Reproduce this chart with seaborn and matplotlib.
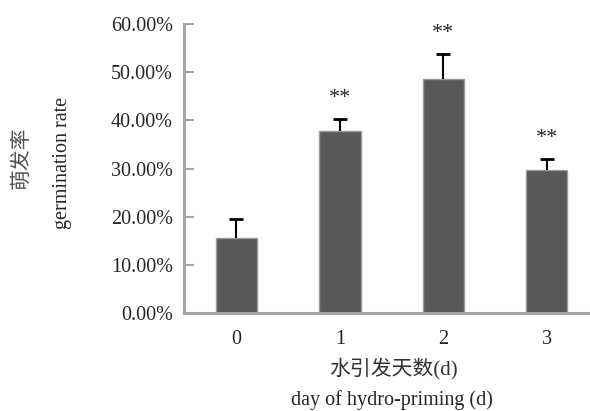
import seaborn as sns
import matplotlib.pyplot as plt
import pandas as pd

days = ["0", "1", "2", "3"]
rate = [15.6, 37.8, 48.5, 29.7]      # germination rate (%)
err = [4.0, 2.4, 5.2, 2.3]           # upper error
marks = ["", "**", "**", "**"]
yticks = [0, 10, 20, 30, 40, 50, 60]

sns.set_style("white")
plt.rcParams['font.family'] = ['Liberation Serif', 'Noto Sans CJK SC']

df = pd.DataFrame({"day": days, "rate": rate})

fig = plt.figure(figsize=(5.9, 4.11), dpi=100)
ax = fig.add_axes([0.312, 0.2384, 0.688, 0.7032])

sns.barplot(data=df, x="day", y="rate", color="#585858", width=0.4,
            edgecolor="#9a9a9a", linewidth=1.0, saturation=1, ax=ax)

xs = range(len(days))
eb = ax.errorbar(xs, rate, yerr=[[0] * len(err), err], fmt="none",
                 ecolor="black", elinewidth=1.5, capsize=4.7, capthick=2)
# only the upper cap is shown
eb[1][0].set_visible(False)

for x, r, e, m in zip(xs, rate, err, marks):
    if m:
        ax.text(x, r + e + 4.3, m, ha="center", va="center", fontsize=16)

ax.set_ylim(0, 60)
ax.set_xlim(-0.507, 3.42)
ax.set_yticks(yticks)
ax.set_yticklabels([f"{t:.2f}%" for t in yticks], fontsize=14.5)
ax.tick_params(axis="x", labelsize=14.5, length=0, pad=12)
ax.tick_params(axis="y", direction="in", length=7, width=1.5,
               color="#a6a6a6", pad=8, left=True)
ax.set_xlabel("")
ax.set_ylabel("")

for s in ["top", "right"]:
    ax.spines[s].set_visible(False)
for s in ["left", "bottom"]:
    ax.spines[s].set_color("#a6a6a6")
    ax.spines[s].set_linewidth(2.2)

fig.text(22 / 590, 1 - 158 / 411, "萌发率", rotation=90, ha="center",
         va="center", fontsize=15, color="#555555")
fig.text(62 / 590, 1 - 163 / 411, "germination rate", rotation=90,
         ha="center", va="center", fontsize=14.5)
fig.text(393 / 590, 1 - 369 / 411, "水引发天数(d)", ha="center",
         va="center", fontsize=15, color="#333333")
fig.text(392 / 590, 1 - 400 / 411, "day of hydro-priming (d)",
         ha="center", va="center", fontsize=14.5)

fig.savefig("out.png", dpi=100)
